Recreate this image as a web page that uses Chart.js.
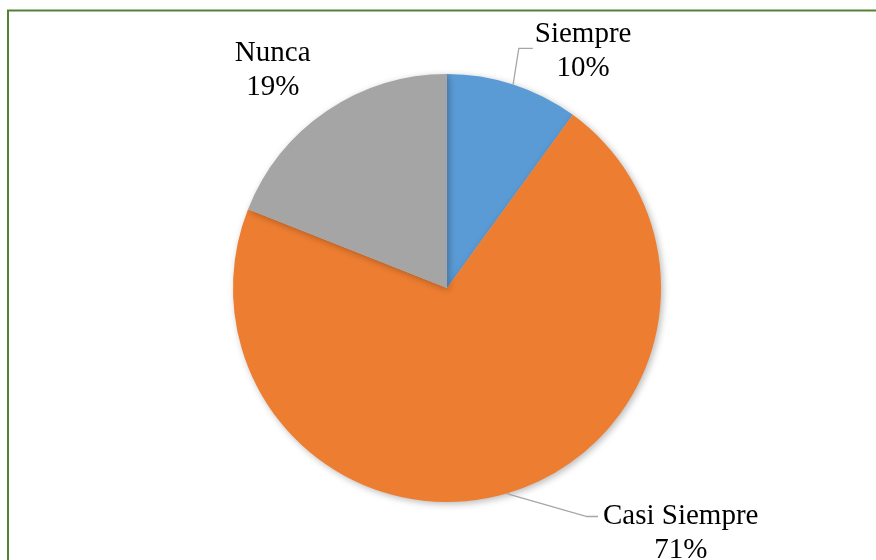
<!DOCTYPE html>
<html><head><meta charset="utf-8">
<script src="https://cdn.jsdelivr.net/npm/chart.js@4/dist/chart.umd.min.js"></script>
<style>html,body{margin:0;padding:0;background:#fff}#wrap{width:876px;height:560px;position:relative}</style>
</head><body><div id="wrap"><canvas id="c" width="876" height="560"></canvas></div>
<script>
const categories = ["Siempre", "Casi Siempre", "Nunca"];
const values = [10, 71, 19];
const percentLabels = ["10%", "71%", "19%"];
const colors = ["#5B9BD5", "#ED7D31", "#A5A5A5"];

// label placement: offset of the label (centre x, first baseline) from the arc's outer mid-point
const labelStyle = [
  {dx: 70, dy: -42, leader: {elbowDx: -16, endDx: -2, dy: 6}},
  {dx: 174, dy: 30, leader: {elbowDx: -16, endDx: -5, dy: -7}},
  {dx: -54, dy: -50, leader: null}
];

const frame = {
  id: 'frame',
  beforeDraw(chart) {
    const ctx = chart.ctx;
    ctx.save();
    ctx.fillStyle = '#fff';
    ctx.fillRect(0, 0, chart.width, chart.height);
    ctx.strokeStyle = '#548235';
    ctx.lineWidth = 2;
    ctx.strokeRect(8, 10.5, 1000, 1000);
    ctx.restore();
  }
};

const shadow = {
  id: 'shadow',
  beforeDatasetsDraw(chart) {
    const ctx = chart.ctx;
    ctx.save();
    ctx.shadowColor = 'rgba(0,0,0,0.28)';
    ctx.shadowBlur = 7;
    ctx.shadowOffsetX = 2;
    ctx.shadowOffsetY = 2;
  },
  afterDatasetsDraw(chart) {
    chart.ctx.restore();
  }
};

const labels = {
  id: 'labels',
  afterDatasetsDraw(chart) {
    const ctx = chart.ctx;
    const meta = chart.getDatasetMeta(0);
    ctx.save();
    ctx.font = '29px "Liberation Serif", "Times New Roman", serif';
    ctx.fillStyle = '#000';
    ctx.textAlign = 'center';
    ctx.textBaseline = 'alphabetic';
    meta.data.forEach((arc, i) => {
      const p = arc.getProps(['x','y','startAngle','endAngle','outerRadius'], true);
      const mid = (p.startAngle + p.endAngle) / 2;
      const ax = p.x + Math.cos(mid) * p.outerRadius;
      const ay = p.y + Math.sin(mid) * p.outerRadius;
      const s = labelStyle[i];
      const lx = ax + s.dx, ly = ay + s.dy;
      const name = categories[i];
      const w = ctx.measureText(name).width;
      if (s.leader) {
        const left = lx - w / 2;
        const ey = ly + s.leader.dy;
        ctx.strokeStyle = '#A6A6A6';
        ctx.lineWidth = 1.3;
        ctx.beginPath();
        ctx.moveTo(ax, ay);
        ctx.lineTo(left + s.leader.elbowDx, ey);
        ctx.lineTo(left + s.leader.endDx, ey);
        ctx.stroke();
      }
      ctx.fillText(name, lx, ly);
      ctx.fillText(percentLabels[i], lx, ly + 34);
    });
    ctx.restore();
  }
};

new Chart(document.getElementById('c'), {
  type: 'pie',
  data: {
    labels: categories,
    datasets: [{ data: values, backgroundColor: colors, borderWidth: 0 }]
  },
  options: {
    responsive: false,
    animation: false,
    layout: { padding: { top: 74, bottom: 58, left: 233, right: 215 } },
    plugins: { legend: { display: false }, tooltip: { enabled: false } }
  },
  plugins: [frame, shadow, labels]
});
</script></body></html>
